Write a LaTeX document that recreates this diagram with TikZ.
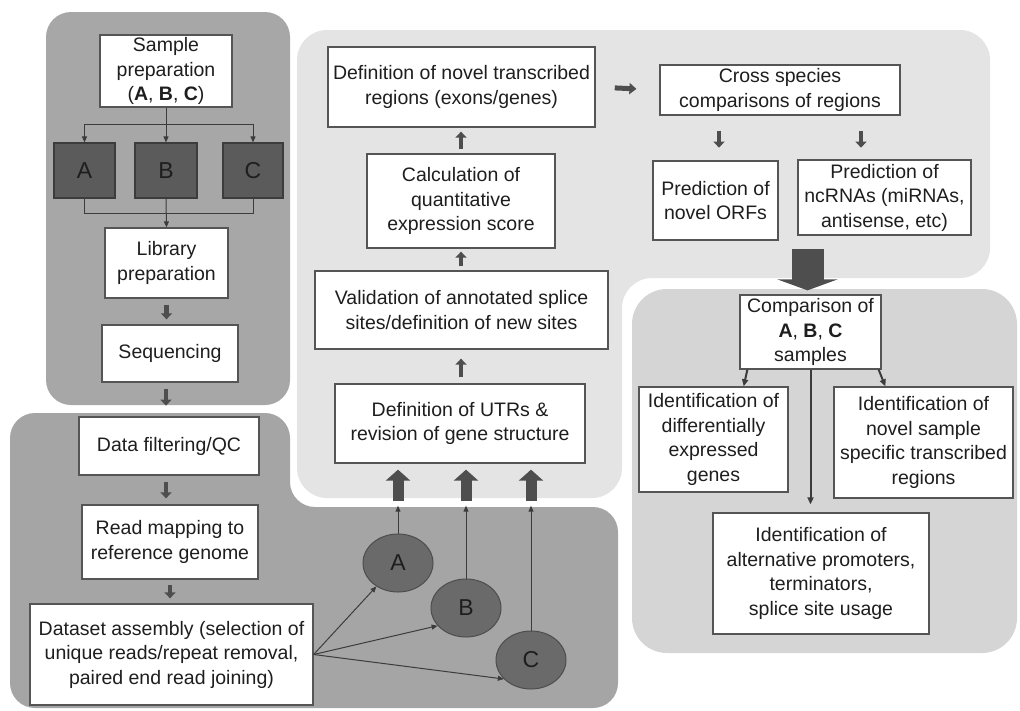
\documentclass[tikz,border=0pt]{standalone}
\usepackage{fontspec}
\setmainfont{Liberation Sans}
\usetikzlibrary{arrows.meta,calc,shapes.geometric}
\definecolor{tlpanel}{HTML}{A7A7A7}
\definecolor{llpanel}{HTML}{A5A5A5}
\definecolor{ltpanel}{HTML}{E4E4E4}
\definecolor{brpanel}{HTML}{D5D5D5}
\definecolor{boxline}{HTML}{555555}
\definecolor{darkbox}{HTML}{5B5B5B}
\definecolor{circfill}{HTML}{6A6A6A}
\definecolor{arrowcol}{HTML}{4E4E4E}
\definecolor{linecol}{HTML}{3C3C3C}
\definecolor{txt}{HTML}{1E1E1E}
\begin{document}
\begin{tikzpicture}[x=1pt,y=-1pt,
  font=\fontsize{19.5}{24.5}\selectfont, text=txt,
  sz/.style 2 args={minimum width=#1pt, minimum height=#2pt},
  box/.style={draw=boxline, fill=white, line width=1.3pt, align=center, inner sep=0pt},
  dbox/.style={draw=linecol, fill=darkbox, line width=1.2pt, inner sep=0pt, font=\fontsize{23}{26}\selectfont},
  circ/.style={ellipse, draw=darkbox!85!black, fill=circfill, line width=1pt, minimum width=70pt, minimum height=58pt, inner sep=0pt, font=\fontsize{23}{26}\selectfont},
  thin/.style={draw=linecol, line width=1pt},
  thinarr/.style={thin, -{Triangle[length=6pt,width=5pt]}},
  smallblk/.style={draw=arrowcol, line width=4.5pt, -{Triangle[length=6pt,width=11pt]}},
  midblk/.style={draw=arrowcol, line width=11pt, -{Triangle[length=11pt,width=24pt]}},
  bigblk/.style={draw=arrowcol, line width=32pt, -{Triangle[length=11pt,width=60pt]}},
  thickarr/.style={draw=linecol, line width=2pt, -{Triangle[length=7pt,width=6pt]}}
]
\useasboundingbox (0,0) rectangle (1020,710);

% panels
\fill[tlpanel, rounded corners=25pt] (46,12) rectangle (290,405);
\fill[llpanel, rounded corners=25pt] (10,413) -- (290,413) -- (290,507) -- (618,507) -- (618,708) -- (10,708) -- cycle;
\fill[ltpanel, rounded corners=30pt] (297,30) -- (990,30) -- (990,278) -- (622,278) -- (622,498) -- (297,498) -- cycle;
\fill[brpanel, rounded corners=35pt] (632,289) rectangle (1017,653);

% top-left
\node[box, sz={132}{72}] (samp) at (166,71) {Sample\\preparation\\(\textbf{A}, \textbf{B}, \textbf{C})};
\node[dbox, sz={61}{55}] (bA) at (84.5,170.5) {A};
\node[dbox, sz={62}{55}] (bB) at (166,170.5) {B};
\node[dbox, sz={60}{55}] (bC) at (253,170.5) {C};
\node[box, sz={123}{70}] (lib) at (166.5,263) {Library\\preparation};
\node[box, sz={136}{57}] (seq) at (170,353.5) {Sequencing};

\draw[thinarr] (samp.south) -- (bB.north);
\draw[thinarr] (samp.south) -- ++(0,17) -| (bA.north);
\draw[thinarr] (samp.south) -- ++(0,17) -| (bC.north);
\draw[thin] (bA.south) -- ++(0,15) -| (bC.south);
\draw[thinarr] (bB.south) -- (lib.north);
\draw[smallblk] ($(lib.south)+(0,6)$) -- ($(lib.south |- seq.north)+(0,-5)$);

% lower-left
\node[box, sz={180}{58}] (data) at (169,446) {Data filtering/QC};
\node[box, sz={176}{74}] (rm) at (170,542) {Read mapping to\\reference genome};
\node[box, sz={283}{101}] (ds) at (171.5,654.5) {Dataset assembly (selection of\\unique reads/repeat removal,\\paired end read joining)};
\draw[smallblk] ($(seq.south)+(-4,6)$) -- ($(seq.south)+(-4,23)$);
\draw[smallblk] ($(data.south)+(-3,6)$) -- ($(data.south |- rm.north)+(-3,-6)$);
\draw[smallblk] ($(rm.south)+(0,5)$) -- ($(rm.south |- ds.north)+(0,-5)$);

\node[circ] (cA) at (398,563) {A};
\node[circ] (cB) at (466,608) {B};
\node[circ] (cC) at (531,660) {C};
\draw[thinarr] (ds.east) -- (cA);
\draw[thinarr] (ds.east) -- (cB.212);
\draw[thinarr] (ds.east) -- (cC.215);

% center
\node[box, sz={267}{80}] (defn) at (461.5,87) {Definition of novel transcribed\\regions (exons/genes)};
\node[box, sz={188}{94}] (calc) at (461,201) {Calculation of\\quantitative\\expression score};
\node[box, sz={293}{78}] (valid) at (461.5,310) {Validation of annotated splice\\sites/definition of new sites};
\node[box, sz={250}{79}] (utr) at (460,423.5) {Definition of UTRs \&\\revision of gene structure};
\draw[smallblk] ($(utr.north)+(1,-6)$) -- ($(utr.north |- valid.south)+(1,9)$);
\draw[smallblk] ($(calc.south |- valid.north)+(0,-4)$) -- ($(calc.south)+(0,3)$);
\draw[smallblk] ($(calc.north)+(0,-4)$) -- ($(calc.north |- defn.south)+(0,4)$);

\foreach \c in {cA, cB, cC}{
  \coordinate (t\c) at ($(\c.north |- utr.south)+(0,42)$);
  \coordinate (b\c) at ($(\c.north |- utr.south)+(0,37)$);
  \draw[thinarr] (\c.north) -- (t\c);
  \draw[midblk] (b\c) -- ($(\c.north |- utr.south)+(0,6)$);
}

% top right
\node[box, sz={240}{50}] (cross) at (780,90) {Cross species\\comparisons of regions};
\node[box, sz={125}{79}] (orf) at (715.5,200.5) {Prediction of\\novel ORFs};
\node[box, sz={173}{75}] (ncr) at (884.5,197.5) {Prediction of\\ncRNAs (miRNAs,\\antisense, etc)};
\draw[smallblk, line width=5pt, -{Triangle[length=7pt,width=11pt]}] ($(defn.east)!0.3!(cross.west)$) -- ($(defn.east)!0.64!(cross.west)$);
\draw[smallblk] ($(cross.south)+(-61,15)$) -- ($(cross.south)+(-61,32)$);
\draw[smallblk] ($(cross.south)+(81,15)$) -- ($(cross.south)+(81,32)$);

% bottom right
\node[box, sz={141}{74}] (comp) at (810.5,332) {Comparison of\\\textbf{A}, \textbf{B}, \textbf{C}\\samples};
\node[box, sz={149}{105}] (diff) at (713.5,439.5) {Identification of\\differentially\\expressed\\genes};
\node[box, sz={179}{111}] (novs) at (923.5,442.5) {Identification of\\novel sample\\specific transcribed\\regions};
\node[box, sz={216}{121}] (alt) at (821,573.5) {Identification of\\alternative promoters,\\terminators,\\splice site usage};

\draw[bigblk] ($(ncr.south)+(-77,13)$) -- ($(comp.north)+(-3,-4)$);
\draw[thickarr] (comp.south) -- ($(comp.south |- alt.north)+(0,-8)$);
\draw[thickarr] ($(comp.south west)+(8,0)$) -- ($(diff.north east)+(-45,0)$);
\draw[thickarr] ($(comp.south east)+(-3,0)$) -- ($(novs.north west)+(52,0)$);
\end{tikzpicture}
\end{document}
